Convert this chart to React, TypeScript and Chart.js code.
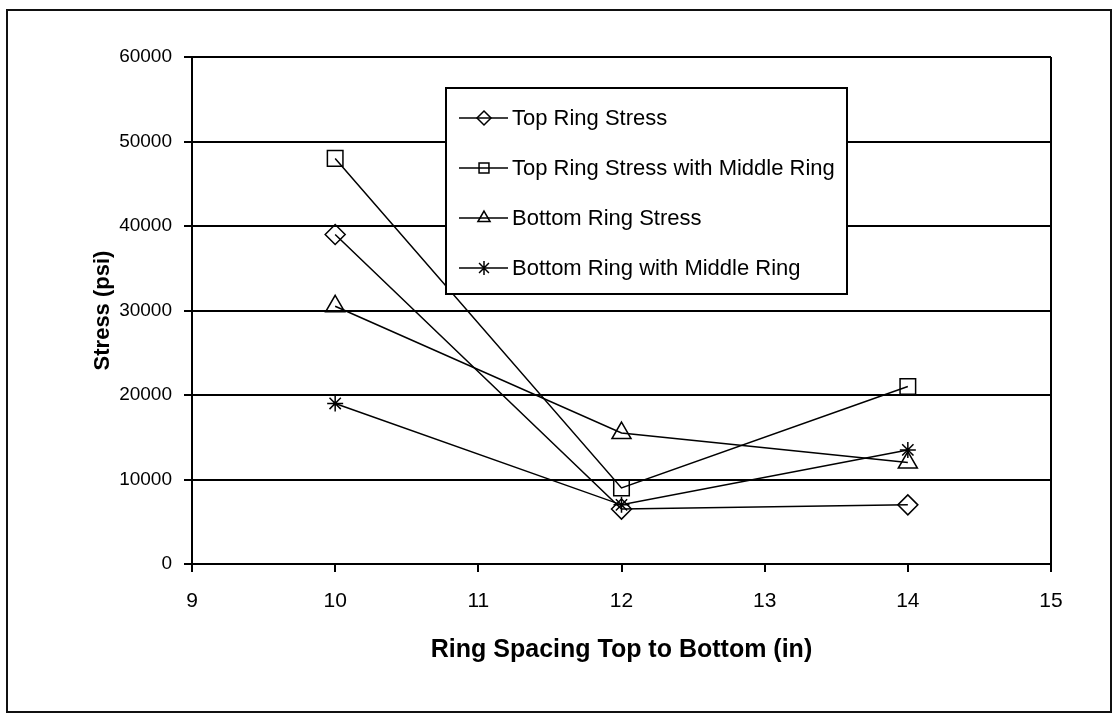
import React, { useEffect, useRef } from 'react';
import { Chart, registerables } from 'chart.js';

Chart.register(...registerables);

// ---- Data ----
const ringSpacing = [10, 12, 14];
const topRingStress = [39000, 6500, 7000];
const topRingStressWithMiddle = [48000, 9000, 21000];
const bottomRingStress = [30500, 15500, 12000];
const bottomRingWithMiddle = [19000, 7000, 13500];
const seriesLabels = [
  'Top Ring Stress',
  'Top Ring Stress with Middle Ring',
  'Bottom Ring Stress',
  'Bottom Ring with Middle Ring',
];
const xTickValues = [9, 10, 11, 12, 13, 14, 15];
const yTickValues = [0, 10000, 20000, 30000, 40000, 50000, 60000];
const xTitle = 'Ring Spacing Top to Bottom (in)';
const yTitle = 'Stress (psi)';

const FONT = '"Liberation Sans", Arial, sans-serif';
const seriesValues = [topRingStress, topRingStressWithMiddle, bottomRingStress, bottomRingWithMiddle];
const pointStyles = ['rectRot', 'rect', 'triangle', 'star'];
const pointRadii = [10, 11, 11, 8];

function drawMarker(ctx: CanvasRenderingContext2D, style: string, x: number, y: number, r: number) {
  ctx.beginPath();
  if (style === 'rectRot') {
    ctx.moveTo(x, y - r);
    ctx.lineTo(x + r, y);
    ctx.lineTo(x, y + r);
    ctx.lineTo(x - r, y);
    ctx.closePath();
  } else if (style === 'rect') {
    const s = r * Math.SQRT1_2;
    ctx.rect(x - s, y - s, 2 * s, 2 * s);
  } else if (style === 'triangle') {
    ctx.moveTo(x, y - r);
    ctx.lineTo(x + r * Math.cos(Math.PI / 6), y + r * 0.5);
    ctx.lineTo(x - r * Math.cos(Math.PI / 6), y + r * 0.5);
    ctx.closePath();
  } else {
    const d = r * Math.SQRT1_2;
    ctx.moveTo(x - d, y - d);
    ctx.lineTo(x + d, y + d);
    ctx.moveTo(x + d, y - d);
    ctx.lineTo(x - d, y + d);
    ctx.moveTo(x, y - r);
    ctx.lineTo(x, y + r);
  }
  ctx.stroke();
}

const framePlugin = {
  id: 'frame',
  beforeDraw(chart: any) {
    const { ctx } = chart;
    ctx.save();
    ctx.fillStyle = '#ffffff';
    ctx.fillRect(0, 0, chart.width, chart.height);
    ctx.restore();
  },
  beforeDatasetsDraw(chart: any) {
    const { ctx, chartArea } = chart;
    ctx.save();
    ctx.strokeStyle = '#000';
    ctx.lineWidth = 2;
    ctx.beginPath();
    ctx.moveTo(chartArea.right, chartArea.top);
    ctx.lineTo(chartArea.right, chartArea.bottom);
    ctx.stroke();
    ctx.restore();
  },
  afterDraw(chart: any) {
    const { ctx } = chart;
    ctx.save();
    // outer border
    ctx.strokeStyle = '#111';
    ctx.lineWidth = 2;
    ctx.strokeRect(7, 10, 1104, 702);

    // legend box
    const bx = 446, by = 88, bw = 401, bh = 206;
    ctx.fillStyle = '#fff';
    ctx.fillRect(bx, by, bw, bh);
    ctx.strokeStyle = '#000';
    ctx.lineWidth = 2;
    ctx.strokeRect(bx, by, bw, bh);

    chart.data.datasets.forEach((ds: any, i: number) => {
      const y = by + 30 + i * 50;
      ctx.strokeStyle = '#000';
      ctx.lineWidth = 1.5;
      ctx.beginPath();
      ctx.moveTo(bx + 13, y);
      ctx.lineTo(bx + 62, y);
      ctx.stroke();
      drawMarker(ctx, ds.pointStyle, bx + 38, y, 7);
      ctx.fillStyle = '#000';
      ctx.font = `22px ${FONT}`;
      ctx.textBaseline = 'middle';
      ctx.textAlign = 'left';
      ctx.fillText(ds.label, bx + 66, y + 1);
    });
    ctx.restore();
  },
};

export default function App() {
  const canvasRef = useRef<HTMLCanvasElement | null>(null);

  useEffect(() => {
    if (!canvasRef.current) return;
    const datasets = seriesLabels.map((label, i) => ({
      label,
      data: ringSpacing.map((x, j) => ({ x, y: seriesValues[i][j] })),
      borderColor: '#000',
      borderWidth: 1.5,
      pointStyle: pointStyles[i],
      pointRadius: pointRadii[i],
      pointBorderColor: '#000',
      pointBorderWidth: 1.5,
      pointBackgroundColor: 'rgba(0,0,0,0)',
      showLine: true,
      fill: false,
      tension: 0,
    }));

    const chart = new Chart(canvasRef.current, {
      type: 'scatter',
      data: { datasets },
      options: {
        animation: false,
        responsive: false,
        devicePixelRatio: 1,
        layout: { padding: { top: 57, right: 68, left: 0, bottom: 0 } },
        plugins: { legend: { display: false }, tooltip: { enabled: false } },
        scales: {
          x: {
            type: 'linear',
            min: 9,
            max: 15,
            afterBuildTicks: (scale: any) => {
              scale.ticks = xTickValues.map((v) => ({ value: v }));
            },
            afterFit: (scale: any) => {
              scale.height = 151;
            },
            grid: {
              drawOnChartArea: false,
              drawTicks: true,
              tickLength: 8,
              color: '#000',
              lineWidth: 2,
            },
            border: { display: true, color: '#000', width: 2 },
            ticks: {
              color: '#000',
              padding: 17,
              maxRotation: 0,
              font: { family: FONT, size: 21 },
              callback: (v: any) => String(v),
            },
            title: {
              display: true,
              text: xTitle,
              color: '#000',
              font: { family: FONT, size: 25, weight: 'bold' },
              padding: { top: 0, bottom: 50 },
            },
          },
          y: {
            type: 'linear',
            min: 0,
            max: 60000,
            afterBuildTicks: (scale: any) => {
              scale.ticks = yTickValues.map((v) => ({ value: v }));
            },
            afterFit: (scale: any) => {
              scale.width = 192;
            },
            grid: {
              drawOnChartArea: true,
              drawTicks: true,
              tickLength: 8,
              color: '#000',
              lineWidth: 2,
            },
            border: { display: true, color: '#000', width: 2 },
            ticks: {
              color: '#000',
              padding: 12,
              font: { family: FONT, size: 19 },
              callback: (v: any) => String(v),
            },
            title: {
              display: true,
              text: yTitle,
              color: '#000',
              font: { family: FONT, size: 22, weight: 'bold' },
              padding: { top: 90, bottom: 0 },
            },
          },
        },
      },
      plugins: [framePlugin],
    } as any);

    return () => chart.destroy();
  }, []);

  return (
    <div style={{ position: 'fixed', left: 0, top: 0, width: 1119, height: 715, background: '#fff' }}>
      <canvas ref={canvasRef} width={1119} height={715} style={{ display: 'block' }} />
    </div>
  );
}
